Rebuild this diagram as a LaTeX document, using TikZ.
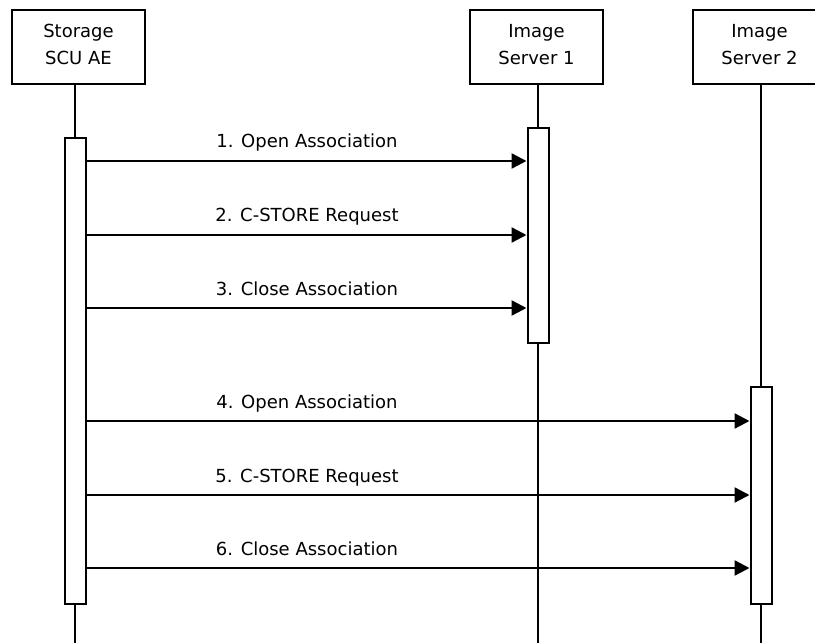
\documentclass[tikz,border=0pt]{standalone}
\usepackage{fontspec}
\setmainfont{DejaVu Sans}
\usetikzlibrary{arrows.meta}
\begin{document}
\begin{tikzpicture}[x=1bp,y=-1bp,
  every node/.style={font=\fontsize{18bp}{27bp}\selectfont},
  actor/.style={draw,line width=2bp,minimum width=133bp,minimum height=74bp,inner sep=0pt,align=center,anchor=north west,text depth=6bp},
  bar/.style={draw,line width=2bp,fill=white,minimum width=21bp,inner sep=0pt,anchor=north},
  life/.style={line width=2bp},
  msg/.style={line width=2.4bp,-{Triangle[length=15bp,width=15bp]}},
  lbl/.style={anchor=base,inner sep=0pt}]
\useasboundingbox (0,0) rectangle (815,643);
% actors
\node[actor] (b1) at (11,9) {Storage\\SCU AE};
\node[actor] (b2) at (469,9) {Image\\Server 1};
\node[actor] (b3) at (692,9) {Image\\Server 2};
% activation bars
\node[bar,minimum height=466bp] (a1) at (75,137) {};
\node[bar,minimum height=215bp] (a2) at (538,127) {};
\node[bar,minimum height=217bp] (a3) at (761,386) {};
% lifeline end points
\coordinate (e1) at (75,643);
\coordinate (e2) at (538,643);
\coordinate (e3) at (761,643);
\draw[life] (b1.south -| a1.north) -- (a1.north);
\draw[life] (a1.south) -- (e1);
\draw[life] (b2.south -| a2.north) -- (a2.north);
\draw[life] (a2.south) -- (e2);
\draw[life] (b3.south -| a3.north) -- (a3.north);
\draw[life] (a3.south) -- (e3);
% message levels
\coordinate (m1) at (0,161);
\coordinate (m2) at (0,235);
\coordinate (m3) at (0,308);
\coordinate (m4) at (0,421);
\coordinate (m5) at (0,495);
\coordinate (m6) at (0,568);
\draw[msg] (a1.east |- m1) -- (a2.west |- m1);
\draw[msg] (a1.east |- m2) -- (a2.west |- m2);
\draw[msg] (a1.east |- m3) -- (a2.west |- m3);
\draw[msg] (a1.east |- m4) -- (a3.west |- m4);
\draw[msg] (a1.east |- m5) -- (a3.west |- m5);
\draw[msg] (a1.east |- m6) -- (a3.west |- m6);
% labels
\node[lbl] (l1) at (307,148) {1. Open Association};
\node[lbl] (l2) at (307,222) {2. C-STORE Request};
\node[lbl] (l3) at (307,295) {3. Close Association};
\node[lbl] (l4) at (307,408) {4. Open Association};
\node[lbl] (l5) at (307,482) {5. C-STORE Request};
\node[lbl] (l6) at (307,555) {6. Close Association};
\end{tikzpicture}
\end{document}
